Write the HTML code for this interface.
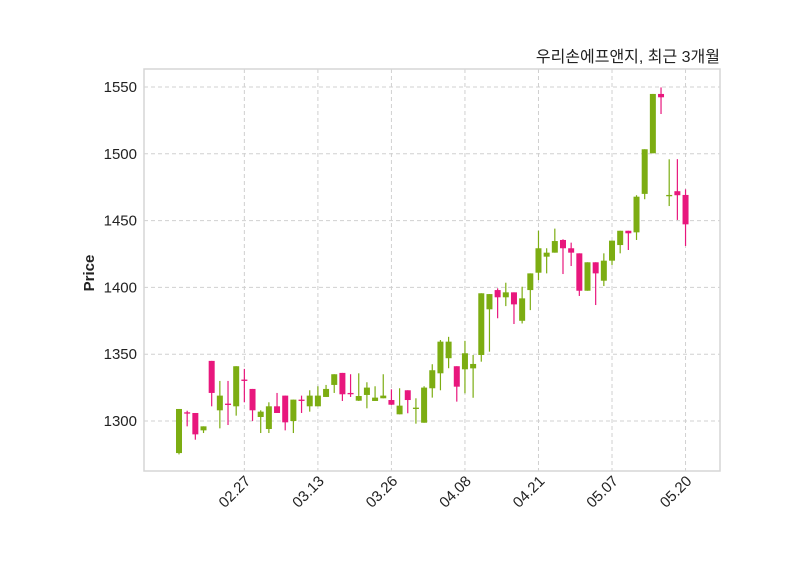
<!DOCTYPE html>
<html><head><meta charset="utf-8">
<style>
body{margin:0;background:#fff;}
svg text{font-family:"Liberation Sans","Noto Sans CJK KR",sans-serif;}
</style></head>
<body>
<svg id="chart" width="800" height="575" xmlns="http://www.w3.org/2000/svg">
<rect x="0" y="0" width="800" height="575" fill="#fff"/>
<g id="grid"></g>
<g id="candles"></g>
<rect x="144" y="69" width="576" height="402" fill="none" stroke="#d6d6d6" stroke-width="1.5"/>
<g id="yticks"></g>
<g id="xticks"></g>
<text transform="translate(94,273) rotate(-90)" text-anchor="middle" font-size="15" font-weight="bold" fill="#222">Price</text>
<text x="720" y="62" text-anchor="end" font-size="16" fill="#222">우리손에프앤지, 최근 3개월</text>
</svg>
<script>
const opens  = [1276,1306.5,1306,1293,1345,1308,1313,1311,1331,1324,1303,1294,1311,1319,1300,1316,1311,1311,1318,1327,1336,1321,1315.2,1319.5,1315,1317,1315.7,1305,1323,1309,1298.7,1324.5,1335.7,1347,1341,1338.7,1339.4,1349.4,1383.6,1398,1392.6,1396.3,1375,1398,1411,1423,1426,1435.5,1429.3,1425.5,1397.5,1418.8,1405,1420,1431.7,1442.4,1441.2,1470,1500.4,1544.8,1468.5,1472,1469.2];
const highs  = [1309,1307.7,1306,1296,1345,1330,1330,1341,1339,1324,1308,1314,1321,1319,1316,1319,1323,1326,1327,1335,1336,1335,1335.7,1329,1326,1335,1323.7,1324.5,1323,1317,1326,1342.5,1360.6,1363,1341,1360,1349.4,1395.6,1395,1399.3,1403.5,1396.3,1400.5,1410.5,1442.4,1429.3,1444,1436,1433.5,1425.5,1418.8,1418.8,1425.5,1435,1442.4,1442.4,1469,1503.4,1544.8,1549.7,1495.9,1496,1473.4];
const lows   = [1275,1296,1286,1291,1311,1294.5,1297,1304,1314,1300,1291,1291,1306,1293,1291,1306,1307,1311,1318,1321,1315,1318,1315,1309.5,1315,1317,1312,1305,1305.8,1298,1298.7,1317.5,1323,1339.5,1314.5,1320.7,1317.4,1344.4,1351.9,1376.9,1386,1372.6,1373,1383,1405.5,1410.5,1426,1410,1416,1393.6,1397.5,1386.8,1401,1416.8,1425.5,1428,1435.5,1466,1500.4,1529.8,1460.9,1450.5,1431];
const closes = [1309,1306,1290,1296,1321,1319,1312,1341,1330,1308,1307,1311,1306,1299,1316,1315,1319,1319,1324,1335,1320,1320,1318.7,1325,1317.5,1319,1312.2,1311.5,1315.7,1310,1325,1338,1359.4,1359.4,1325.7,1350.7,1342.7,1395.6,1395,1392.6,1396.3,1387.3,1391.8,1410.5,1429.3,1426,1434.7,1429.3,1426,1397.5,1418.8,1410.5,1420,1435,1442.4,1440.5,1467.9,1503.4,1544.8,1542.3,1469.2,1469,1447.2];
const yTickLabels = [1300,1350,1400,1450,1500,1550];
const xTickIdx = [8,17,26,35,44,53,62];
const xTickLabels = ["02.27","03.13","03.26","04.08","04.21","05.07","05.20"];

const NS="http://www.w3.org/2000/svg";
const X0=179, DX=8.17;
const xs = i => X0 + i*DX;
const ys = p => 421 - (p-1300)*1.336;
function mk(tag, parent){const e=document.createElementNS(NS,tag);document.getElementById(parent).appendChild(e);return e;}

yTickLabels.forEach(v=>{
  const l=mk('line','grid');
  
  
  l.setAttribute('x1',144);l.setAttribute('x2',720);l.setAttribute('y1',ys(v));l.setAttribute('y2',ys(v));
  l.setAttribute('stroke','#d0d0d0');l.setAttribute('stroke-dasharray','4,3');
  const t=mk('text','yticks');
  
  
  t.setAttribute('x',137);t.setAttribute('y',ys(v)+5);t.setAttribute('text-anchor','end');
  t.setAttribute('font-size','15');t.setAttribute('fill','#222');t.textContent=v;
});
xTickIdx.forEach((ix,k)=>{
  const x=xs(ix);
  const l=mk('line','grid');
  
  
  l.setAttribute('x1',x);l.setAttribute('x2',x);l.setAttribute('y1',69);l.setAttribute('y2',471);
  l.setAttribute('stroke','#d0d0d0');l.setAttribute('stroke-dasharray','4,3');
  const t=mk('text','xticks');
  
  
  t.setAttribute('transform','translate('+(x+7)+',482) rotate(-45)');
  t.setAttribute('text-anchor','end');t.setAttribute('font-size','15');t.setAttribute('fill','#222');
  t.textContent=xTickLabels[k];
});
opens.forEach((o,i)=>{
  const c=closes[i], up=c>=o, col=up?'#7cad12':'#e8177d';
  const x=xs(i);
  const w=mk('line','candles');
  
  
  w.setAttribute('x1',x);w.setAttribute('x2',x);w.setAttribute('y1',ys(highs[i]));w.setAttribute('y2',ys(lows[i]));
  w.setAttribute('stroke',col);w.setAttribute('stroke-width','1.2');
  const b=mk('rect','candles');
  
  
  const top=ys(Math.max(o,c)), bot=ys(Math.min(o,c));
  b.setAttribute('x',x-3);b.setAttribute('y',top);b.setAttribute('width',6);b.setAttribute('height',Math.max(bot-top,1.3));
  b.setAttribute('fill',col);
});
</script>
</body></html>
